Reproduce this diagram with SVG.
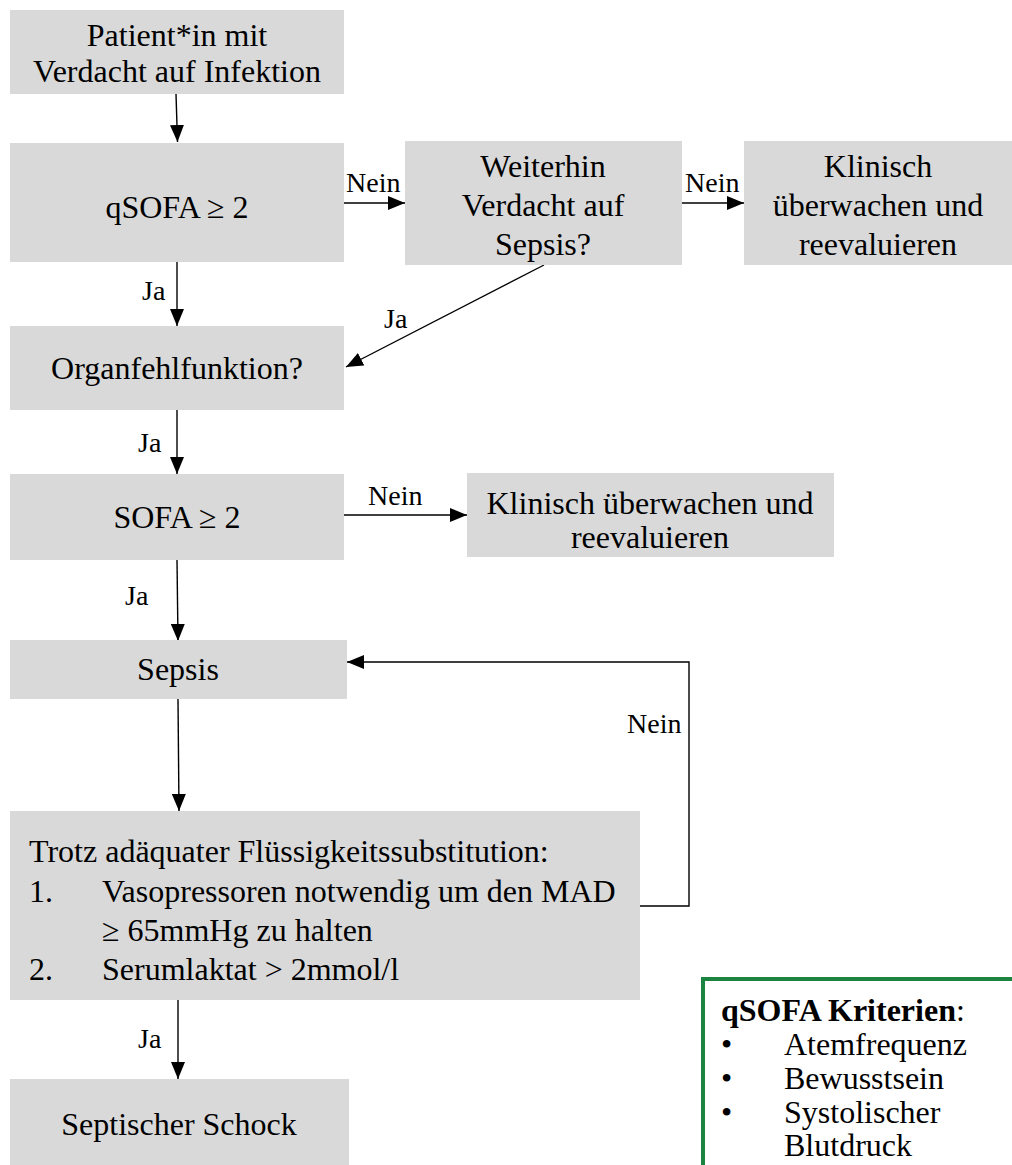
<svg xmlns="http://www.w3.org/2000/svg" width="1012" height="1165" viewBox="0 0 1012 1165">
  <style>
    .box { fill: #d9d9d9; }
    text { font-family: "Liberation Serif", "Times New Roman", serif; fill: #000; }
    .t { font-size: 32px; }
    .c { text-anchor: middle; }
    .lbl { font-size: 28px; }
    .edge { stroke: #000; stroke-width: 1.4; fill: none; marker-end: url(#head); }
    .crit { fill: none; stroke: #1b8440; stroke-width: 4; }
  </style>
  <defs>
    <marker id="head" markerUnits="userSpaceOnUse" markerWidth="18" markerHeight="14" refX="17" refY="7" orient="auto">
      <path d="M0,0 L17,7 L0,14 Z" fill="#000"/>
    </marker>
  </defs>
  <rect width="1012" height="1165" fill="#fff"/>

  <!-- connectors -->
  <g id="connectors">
    <line class="edge" x1="176" y1="94" x2="177.5" y2="142"/>
    <line class="edge" x1="344" y1="203" x2="405" y2="203"/>
    <line class="edge" x1="682" y1="203" x2="744" y2="203"/>
    <line class="edge" x1="177" y1="262" x2="177" y2="326"/>
    <line class="edge" x1="544" y1="265" x2="346" y2="367"/>
    <line class="edge" x1="177" y1="410" x2="177" y2="474"/>
    <line class="edge" x1="344" y1="515" x2="467" y2="515"/>
    <line class="edge" x1="177" y1="560" x2="178" y2="641"/>
    <line class="edge" x1="178" y1="699" x2="179" y2="811"/>
    <polyline class="edge" points="640,906 689,906 689,662 347,662"/>
    <line class="edge" x1="178" y1="1000" x2="178" y2="1079"/>
    <text class="lbl" x="346" y="192">Nein</text>
    <text class="lbl" x="685" y="192">Nein</text>
    <text class="lbl" x="142" y="300">Ja</text>
    <text class="lbl" x="384" y="328">Ja</text>
    <text class="lbl" x="138" y="452">Ja</text>
    <text class="lbl" x="368" y="505">Nein</text>
    <text class="lbl" x="125" y="605">Ja</text>
    <text class="lbl" x="627" y="733">Nein</text>
    <text class="lbl" x="138" y="1048">Ja</text>
  </g>

  <g id="start">
    <rect class="box" x="10" y="10" width="334" height="84"/>
    <text class="t c" x="177" y="46">Patient*in mit</text>
    <text class="t c" x="177" y="82">Verdacht auf Infektion</text>
  </g>

  <g id="qsofa">
    <rect class="box" x="10" y="143" width="334" height="119"/>
    <text class="t c" x="177" y="218">qSOFA ≥ 2</text>
  </g>

  <g id="suspicion">
    <rect class="box" x="405" y="141" width="277" height="124"/>
    <text class="t c" x="543" y="177">Weiterhin</text>
    <text class="t c" x="543" y="216">Verdacht auf</text>
    <text class="t c" x="543" y="255">Sepsis?</text>
  </g>

  <g id="monitor1">
    <rect class="box" x="744" y="141" width="268" height="124"/>
    <text class="t c" x="878" y="177">Klinisch</text>
    <text class="t c" x="878" y="216">überwachen und</text>
    <text class="t c" x="878" y="255">reevaluieren</text>
  </g>

  <g id="organ">
    <rect class="box" x="10" y="326" width="334" height="84"/>
    <text class="t c" x="177" y="379">Organfehlfunktion?</text>
  </g>

  <g id="sofa">
    <rect class="box" x="10" y="474" width="334" height="86"/>
    <text class="t c" x="177" y="528">SOFA ≥ 2</text>
  </g>

  <g id="monitor2">
    <rect class="box" x="467" y="473" width="367" height="84"/>
    <text class="t c" x="650" y="514">Klinisch überwachen und</text>
    <text class="t c" x="650" y="548">reevaluieren</text>
  </g>

  <g id="sepsis">
    <rect class="box" x="10" y="640" width="337" height="59"/>
    <text class="t c" x="178" y="680">Sepsis</text>
  </g>

  <g id="shock-criteria">
    <rect class="box" x="10" y="811" width="630" height="189"/>
    <text class="t" x="29" y="862">Trotz adäquater Flüssigkeitssubstitution:</text>
    <text class="t" x="29" y="902">1.</text>
    <text class="t" x="102" y="902">Vasopressoren notwendig um den MAD</text>
    <text class="t" x="102" y="941">≥ 65mmHg zu halten</text>
    <text class="t" x="29" y="980">2.</text>
    <text class="t" x="102" y="980">Serumlaktat &gt; 2mmol/l</text>
  </g>

  <g id="septic-shock">
    <rect class="box" x="10" y="1079" width="339" height="86"/>
    <text class="t c" x="179" y="1135">Septischer Schock</text>
  </g>

  <g id="qsofa-legend">
    <rect class="crit" x="703" y="979" width="330" height="240"/>
    <text class="t" x="721" y="1021"><tspan font-weight="bold">qSOFA Kriterien</tspan>:</text>
    <text class="t" x="721" y="1055">•</text>
    <text class="t" x="784" y="1055">Atemfrequenz</text>
    <text class="t" x="721" y="1089">•</text>
    <text class="t" x="784" y="1089">Bewusstsein</text>
    <text class="t" x="721" y="1123">•</text>
    <text class="t" x="784" y="1123">Systolischer</text>
    <text class="t" x="784" y="1156">Blutdruck</text>
  </g>
</svg>
